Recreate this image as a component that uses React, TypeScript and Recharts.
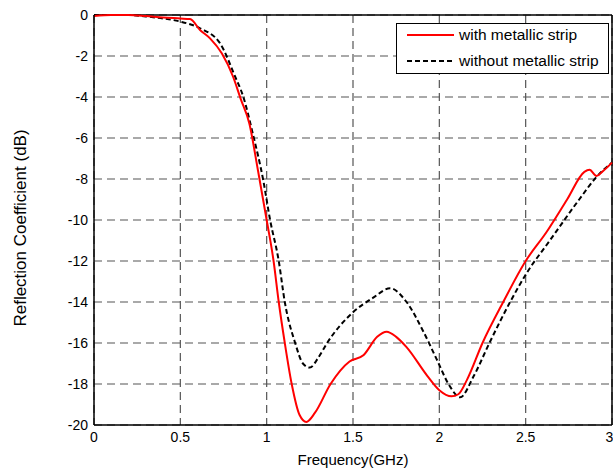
import {
  CartesianGrid,
  Line,
  LineChart,
  ReferenceLine,
  XAxis,
  YAxis,
} from "recharts";

const FONT = '"Liberation Sans", Arial, Helvetica, sans-serif';

// with metallic strip (red, solid)
const withFreq = [
  0, 0.1, 0.2, 0.3, 0.4, 0.5, 0.556, 0.614, 0.672, 0.74, 0.805, 0.85, 0.9,
  0.95, 1.0, 1.04, 1.07, 1.105, 1.145, 1.19, 1.23, 1.28, 1.37, 1.48, 1.56,
  1.64, 1.695, 1.75, 1.81, 1.93, 2.0, 2.07, 2.11, 2.16, 2.25, 2.37, 2.5, 2.62,
  2.74, 2.84, 2.87, 2.91, 2.95, 3.0,
];
const withDb = [
  -0.05, 0, 0, -0.05, -0.12, -0.17, -0.2, -0.73, -1.14, -1.87, -3.0, -4.1,
  -5.3, -7.6, -10.0, -12.0, -14.0, -16.0, -18.0, -19.5, -19.85, -19.4, -18.0,
  -16.9, -16.6, -15.7, -15.45, -15.7, -16.2, -17.6, -18.3, -18.6, -18.5,
  -17.8, -16.0, -14.0, -12.0, -10.6, -9.0, -7.65, -7.55, -7.85, -7.6, -7.2,
];

// without metallic strip (black, dashed)
const withoutFreq = [
  0, 0.1, 0.2, 0.3, 0.4, 0.5, 0.614, 0.73, 0.817, 0.865, 0.92, 0.98, 1.02,
  1.07, 1.105, 1.165, 1.21, 1.25, 1.3, 1.35, 1.5, 1.615, 1.715, 1.81, 1.905,
  1.985, 2.06, 2.12, 2.2, 2.29, 2.41, 2.505, 2.64, 2.81, 2.91, 3.0,
];
const withoutDb = [
  0, 0, 0, -0.07, -0.17, -0.32, -0.65, -1.38, -3.0, -4.0, -5.8, -8.05, -10.0,
  -12.0, -14.0, -16.0, -17.0, -17.2, -16.7, -16.0, -14.5, -13.8, -13.33,
  -14.0, -15.4, -16.8, -18.1, -18.65, -17.6, -16.0, -14.0, -12.6, -11.0,
  -9.0, -7.9, -7.2,
];

const xTicks = [0, 0.5, 1, 1.5, 2, 2.5, 3];
const yTicks = [0, -2, -4, -6, -8, -10, -12, -14, -16, -18, -20];

const withData = withFreq.map((f, i) => ({ f, v: withDb[i] }));
const withoutData = withoutFreq.map((f, i) => ({ f, v: withoutDb[i] }));

function YLabel() {
  return (
    <text
      x={20}
      y={228}
      transform="rotate(-90 20 228)"
      textAnchor="middle"
      dominantBaseline="central"
      fontSize={17}
      fontFamily={FONT}
      fill="#000"
    >
      Reflection Coefficient (dB)
    </text>
  );
}

function LegendBox() {
  return (
    <div
      style={{
        position: "absolute",
        left: 396,
        top: 23,
        width: 211,
        height: 49,
        border: "1px solid #000",
        background: "#fff",
        fontFamily: FONT,
        fontSize: 15.5,
        color: "#000",
      }}
    >
      <svg width={60} height={49} style={{ position: "absolute", left: 0, top: 0 }}>
        <line x1={10} x2={57} y1={11} y2={11} stroke="#ff0000" strokeWidth={2} />
        <line
          x1={10}
          x2={57}
          y1={37}
          y2={37}
          stroke="#000"
          strokeWidth={2}
          strokeDasharray="5 3"
        />
      </svg>
      <div style={{ position: "absolute", left: 62, top: 1, lineHeight: "20px" }}>
        with metallic strip
      </div>
      <div style={{ position: "absolute", left: 62, top: 27, lineHeight: "20px" }}>
        without metallic strip
      </div>
    </div>
  );
}

export default function App() {
  return (
    <div
      style={{
        position: "absolute",
        left: 0,
        top: 0,
        width: 613,
        height: 470,
        background: "#fff",
      }}
    >
      <LineChart
        width={613}
        height={470}
        margin={{ top: 15, right: 1, bottom: 0, left: 0 }}
      >
        <CartesianGrid
          stroke="#555"
          strokeWidth={1.2}
          strokeDasharray="8 5"
          verticalValues={xTicks}
          horizontalValues={yTicks}
        />
        <XAxis
          dataKey="f"
          type="number"
          domain={[0, 3]}
          ticks={xTicks}
          allowDuplicatedCategory={false}
          height={45}
          tickSize={0}
          tickMargin={7}
          axisLine={{ stroke: "#000", strokeWidth: 1.5 }}
          tick={{ fill: "#000", fontSize: 14, fontFamily: FONT }}
          label={{
            value: "Frequency(GHz)",
            position: "insideBottom",
            offset: 5,
            fill: "#000",
            fontSize: 15,
            fontFamily: FONT,
          }}
        />
        <YAxis
          type="number"
          domain={[-20, 0]}
          ticks={yTicks}
          width={94}
          tickSize={0}
          tickMargin={6}
          axisLine={{ stroke: "#000", strokeWidth: 1.5 }}
          tick={{ fill: "#000", fontSize: 14, fontFamily: FONT }}
          label={<YLabel />}
        />
        <ReferenceLine y={0} stroke="#000" strokeWidth={1.5} />
        <ReferenceLine x={3} stroke="#000" strokeWidth={1.5} />
        <Line
          data={withoutData}
          dataKey="v"
          name="without metallic strip"
          type="monotone"
          stroke="#000"
          strokeWidth={2}
          strokeDasharray="5 3"
          dot={false}
          isAnimationActive={false}
        />
        <Line
          data={withData}
          dataKey="v"
          name="with metallic strip"
          type="monotone"
          stroke="#ff0000"
          strokeWidth={2}
          dot={false}
          isAnimationActive={false}
        />
      </LineChart>
      <LegendBox />
    </div>
  );
}
